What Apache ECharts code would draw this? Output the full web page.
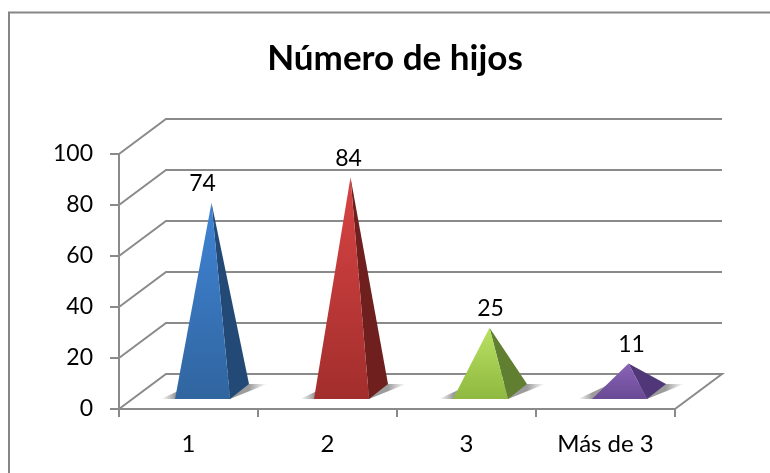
<!DOCTYPE html>
<html>
<head>
<meta charset="utf-8">
<style>html,body{margin:0;padding:0;background:#fff}#c{width:770px;height:473px}</style>
<script src="https://cdn.jsdelivr.net/npm/echarts@6/dist/echarts.min.js"></script>
</head>
<body>
<div id="c"></div>
<script>
const titleText = 'Número de hijos';
const categories = ['1', '2', '3', 'Más de 3'];
const values = [74, 84, 25, 11];
const yTicks = [0, 20, 40, 60, 80, 100];

const faceColors = [
  { top: '#4084d6', bottom: '#30659f', side: '#234a76' },
  { top: '#d84444', bottom: '#a22e2c', side: '#6e1f1e' },
  { top: '#b9e264', bottom: '#8eb83f', side: '#607f30' },
  { top: '#8a63b8', bottom: '#694a94', side: '#4f3778' }
];
const labelNudge = [-9, -2, 1, 3];

const GREY = '#8a8a8a';
const FONT = 'Lato, Carlito, "Open Sans", sans-serif';
const DEPTH = [47, -35];
const HALF = { front: 37, side: 18, rear: 37, lift: 7.5 };

function wallItem(params, api) {
  const cs = params.coordSys;
  const p = api.coord([0, api.value(1)]);
  const x0 = cs.x, x1 = cs.x + cs.width, y = p[1];
  const pts = [[x0, y], [x0 + DEPTH[0], y + DEPTH[1]], [x1 + DEPTH[0], y + DEPTH[1]]];
  if (api.value(1) === 0) pts.push([x1, y]);
  return {
    type: 'polyline',
    shape: { points: pts },
    style: { stroke: GREY, lineWidth: 2, fill: null }
  };
}

function pyramidItem(params, api) {
  const i = api.value(0), v = api.value(1);
  const c = faceColors[i];
  const base = api.coord([i, 0]);
  const top = api.coord([i, v]);
  const cx = base[0] + DEPTH[0] / 2, cy = base[1] + DEPTH[1] / 2;
  const apex = [cx - 0.5, top[1] + DEPTH[1] / 2];
  const by = cy + HALF.lift, ry = cy - HALF.lift;
  const fl = [cx - HALF.front, by], fr = [cx + HALF.side, by], br = [cx + HALF.rear, ry];
  const sx0 = fl[0] - 14, sx1 = br[0] + 18;
  return {
    type: 'group',
    children: [
      {
        type: 'polygon',
        shape: { points: [[sx0, by], fr, [sx1, ry], [fl[0] + 18, ry]] },
        style: {
          fill: {
            type: 'linear', global: true, x: sx0, y: 0, x2: sx1, y2: 0,
            colorStops: [
              { offset: 0, color: 'rgba(110,110,110,0)' },
              { offset: 14 / (sx1 - sx0), color: 'rgba(90,90,90,0.6)' },
              { offset: (br[0] - sx0) / (sx1 - sx0), color: 'rgba(90,90,90,0.6)' },
              { offset: 1, color: 'rgba(110,110,110,0)' }
            ]
          }
        }
      },
      {
        type: 'polygon',
        shape: { points: [apex, fr, br] },
        style: { fill: c.side }
      },
      {
        type: 'polygon',
        shape: { points: [apex, fl, fr] },
        style: {
          fill: {
            type: 'linear', global: true, x: 0, y: apex[1], x2: 0, y2: by,
            colorStops: [{ offset: 0, color: c.top }, { offset: 1, color: c.bottom }]
          }
        }
      },
      {
        type: 'text',
        style: {
          x: apex[0] + labelNudge[i], y: apex[1] - 19,
          text: String(v), fill: '#000', font: '23px ' + FONT,
          align: 'center', verticalAlign: 'middle'
        }
      }
    ]
  };
}

const chart = echarts.init(document.getElementById('c'));
chart.setOption({
  animation: false,
  backgroundColor: '#fff',
  title: {
    text: titleText, left: 390, top: 36, textAlign: 'center',
    textStyle: { fontFamily: FONT, fontWeight: 'bold', fontSize: 35, color: '#000' }
  },
  graphic: [{
    type: 'polyline', silent: true,
    shape: { points: [[9, 473], [9, 12.5], [770, 12.5]] },
    style: { stroke: '#868686', lineWidth: 2, fill: null }
  }],
  grid: { left: 119, right: 95, top: 154, bottom: 64 },
  xAxis: {
    type: 'category', data: categories,
    axisLine: { lineStyle: { color: GREY, width: 2 } },
    axisTick: { show: true, length: 8, alignWithLabel: false, lineStyle: { color: GREY, width: 2 } },
    axisLabel: { color: '#000', fontFamily: FONT, fontSize: 24, margin: 23, interval: 0 },
    splitLine: { show: false }
  },
  yAxis: {
    type: 'value', min: 0, max: 100, interval: 20,
    axisLine: { show: true, lineStyle: { color: GREY, width: 2 } },
    axisTick: { show: true, length: 9, lineStyle: { color: GREY, width: 2 } },
    axisLabel: { color: '#000', fontFamily: FONT, fontSize: 23, margin: 26, padding: [5, 0, 0, 0] },
    splitLine: { show: false }
  },
  series: [
    {
      type: 'custom', silent: true, z: 1,
      renderItem: wallItem,
      encode: { x: 0, y: 1 },
      data: yTicks.map(t => [0, t])
    },
    {
      type: 'custom', silent: true, z: 3,
      renderItem: pyramidItem,
      encode: { x: 0, y: 1 },
      data: values.map((v, i) => [i, v])
    }
  ]
});
</script>
</body>
</html>
